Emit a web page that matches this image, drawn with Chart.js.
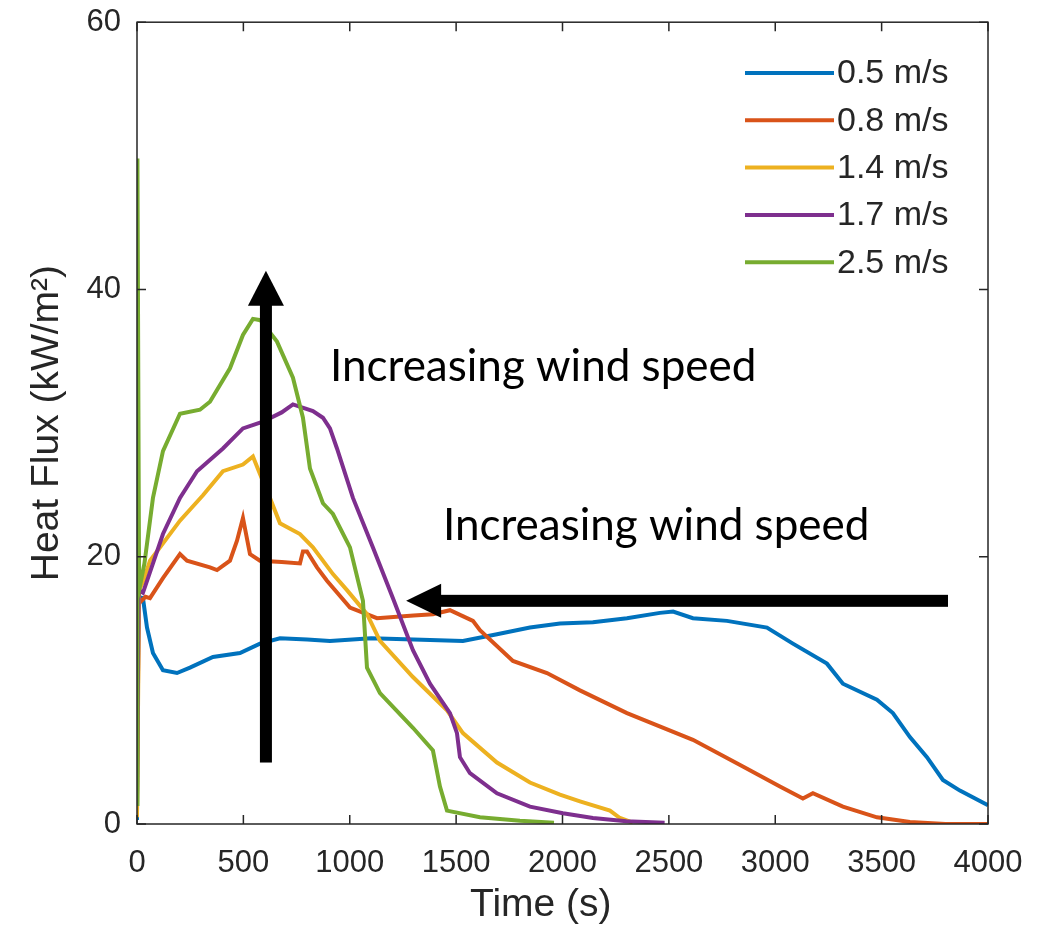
<!DOCTYPE html>
<html>
<head>
<meta charset="utf-8">
<script src="https://cdn.jsdelivr.net/npm/chart.js@4/dist/chart.umd.min.js"></script>
<style>
  html, body { margin: 0; padding: 0; background: #fff; }
  canvas { display: block; }
</style>
</head>
<body>
<canvas id="fluxChart" width="1051" height="933" style="width:1051px;height:933px"></canvas>
<script>
// ========== DATA ==========
const seriesLabels = ['0.5 m/s', '0.8 m/s', '1.4 m/s', '1.7 m/s', '2.5 m/s'];
const seriesColors = ['#0072BD', '#D95319', '#EDB120', '#7E2F8E', '#77AC30'];

const xTicks = [0, 500, 1000, 1500, 2000, 2500, 3000, 3500, 4000];
const yTicks = [0, 20, 40, 60];

// [time (s), heat flux (kW/m2)]
const flux05 = [
  [0, 0.3], [5, 17], [28, 16.9], [47, 14.7], [75, 12.8], [122, 11.5], [188, 11.3], [249, 11.7],
  [357, 12.5], [484, 12.8], [578, 13.5], [672, 13.9], [800, 13.8], [907, 13.7], [1100, 13.9],
  [1300, 13.8], [1532, 13.7], [1692, 14.2], [1847, 14.7], [1988, 15.0], [2143, 15.1], [2303, 15.4],
  [2458, 15.8], [2520, 15.9], [2613, 15.4], [2773, 15.2], [2961, 14.7], [3083, 13.5], [3243, 12.0],
  [3318, 10.5], [3478, 9.3], [3553, 8.3], [3633, 6.5], [3713, 5.0], [3788, 3.3], [3868, 2.5], [4000, 1.4]
];
const flux08 = [
  [0, 1.3], [8, 16.5], [40, 17.0], [61, 16.9], [122, 18.4], [202, 20.2], [235, 19.7], [343, 19.2],
  [376, 19.0], [437, 19.7], [470, 21.2], [498, 22.9], [531, 20.2], [578, 19.7], [680, 19.6], [766, 19.5],
  [780, 20.4], [799, 20.4], [846, 19.2], [893, 18.2], [1001, 16.2], [1128, 15.4], [1300, 15.6],
  [1391, 15.7], [1471, 16.0], [1579, 15.2], [1612, 14.5], [1767, 12.2], [1927, 11.3], [2082, 10.0],
  [2303, 8.3], [2613, 6.3], [2848, 4.3], [3022, 2.8], [3130, 1.9], [3177, 2.3], [3318, 1.3],
  [3478, 0.5], [3633, 0.15], [3800, 0], [4000, 0]
];
const flux14 = [
  [0, 0.5], [10, 17.5], [30, 18.2], [61, 19.7], [202, 22.7], [310, 24.6], [404, 26.4], [498, 26.9],
  [545, 27.5], [578, 26.2], [625, 24.4], [672, 22.5], [766, 21.7], [827, 20.7], [921, 18.7],
  [987, 17.5], [1081, 15.7], [1142, 13.7], [1297, 11.0], [1457, 8.5], [1532, 6.8], [1692, 4.6],
  [1847, 3.1], [1988, 2.2], [2082, 1.7], [2223, 1.0], [2270, 0.45], [2330, 0.1]
];
const flux17 = [
  [0, 2.0], [8, 17.5], [28, 17.3], [122, 21.7], [202, 24.4], [282, 26.4], [404, 28.1], [498, 29.6],
  [592, 30.1], [680, 30.8], [733, 31.4], [827, 30.9], [874, 30.4], [907, 29.6], [940, 28.1],
  [1015, 24.4], [1109, 20.7], [1203, 16.9], [1297, 13.0], [1377, 10.5], [1471, 8.3], [1504, 6.8],
  [1518, 5.0], [1565, 3.8], [1692, 2.3], [1847, 1.3], [2002, 0.8], [2143, 0.45], [2300, 0.2], [2480, 0.1]
];
const flux25 = [
  [0, 1.5], [2, 49.8], [10, 17.5], [35, 19.5], [75, 24.4], [122, 27.9], [202, 30.7], [296, 31.0],
  [343, 31.6], [437, 34.1], [498, 36.6], [545, 37.8], [580, 37.7], [658, 36.1], [733, 33.4],
  [780, 30.4], [813, 26.6], [874, 24.0], [921, 23.2], [1001, 20.7], [1062, 16.7], [1081, 11.7],
  [1142, 9.8], [1297, 7.2], [1391, 5.5], [1424, 2.8], [1457, 1.0], [1612, 0.5], [1800, 0.25], [1960, 0.1]
];
const allSeries = [flux05, flux08, flux14, flux17, flux25];

// annotations in data coordinates
const annoText = 'Increasing wind speed';
const vArrow = { x: 606, yFrom: 4.6, yTo: 41.4 };
const hArrow = { y: 16.7, xFrom: 3812, xTo: 1265 };
const textPos = [[907, 34.2], [1438, 22.3]];

const axisColor = '#262626';
const fontFamily = "'Liberation Sans', Arial, Helvetica, sans-serif";
const xTickFont = { family: fontFamily, size: 31, lineHeight: 1 };
// small line height so the top label does not push the plot box down
const yTickFont = { family: fontFamily, size: 31, lineHeight: 0.4 };

// ========== PLUGIN: box, inner ticks, arrows, legend ==========
const decorPlugin = {
  id: 'decor',
  afterDatasetsDraw(chart) {
    const ctx = chart.ctx;
    const a = chart.chartArea;
    const xs = chart.scales.x, ys = chart.scales.y;
    ctx.save();

    // box
    ctx.strokeStyle = axisColor;
    ctx.lineWidth = 1.5;
    ctx.strokeRect(a.left, a.top, a.right - a.left, a.bottom - a.top);

    // inward ticks
    const tl = 9;
    ctx.beginPath();
    xTicks.forEach(v => {
      const px = xs.getPixelForValue(v);
      ctx.moveTo(px, a.bottom); ctx.lineTo(px, a.bottom - tl);
      ctx.moveTo(px, a.top); ctx.lineTo(px, a.top + tl);
    });
    yTicks.forEach(v => {
      const py = ys.getPixelForValue(v);
      ctx.moveTo(a.left, py); ctx.lineTo(a.left + tl, py);
      ctx.moveTo(a.right, py); ctx.lineTo(a.right - tl, py);
    });
    ctx.stroke();

    // vertical arrow
    ctx.fillStyle = '#000';
    const vx = xs.getPixelForValue(vArrow.x);
    const vb = ys.getPixelForValue(vArrow.yFrom);
    const vt = ys.getPixelForValue(vArrow.yTo);
    ctx.fillRect(vx - 6, vt + 32, 12, vb - vt - 32);
    ctx.beginPath();
    ctx.moveTo(vx, vt);
    ctx.lineTo(vx - 18, vt + 35);
    ctx.lineTo(vx + 18, vt + 35);
    ctx.closePath();
    ctx.fill();

    // horizontal arrow
    const hy = ys.getPixelForValue(hArrow.y);
    const hr = xs.getPixelForValue(hArrow.xFrom);
    const hl = xs.getPixelForValue(hArrow.xTo);
    ctx.fillRect(hl + 32, hy - 6, hr - hl - 32, 12);
    ctx.beginPath();
    ctx.moveTo(hl, hy);
    ctx.lineTo(hl + 35, hy - 17);
    ctx.lineTo(hl + 35, hy + 17);
    ctx.closePath();
    ctx.fill();

    // annotation text
    ctx.font = "44px Lato, 'Open Sans', sans-serif";
    ctx.textBaseline = 'middle';
    ctx.textAlign = 'left';
    textPos.forEach(p => {
      ctx.fillText(annoText, xs.getPixelForValue(p[0]), ys.getPixelForValue(p[1]));
    });

    // legend
    ctx.font = "34px " + fontFamily;
    ctx.lineWidth = 4;
    seriesLabels.forEach((lab, i) => {
      const y = 73 + i * 47.3;
      ctx.strokeStyle = seriesColors[i];
      ctx.beginPath();
      ctx.moveTo(745, y); ctx.lineTo(834, y);
      ctx.stroke();
      ctx.fillStyle = axisColor;
      ctx.fillText(lab, 837, y + 1);
    });

    ctx.restore();
  }
};

// ========== DRAW CHART ==========
const datasets = allSeries.map((s, i) => ({
  label: seriesLabels[i],
  data: s.map(p => ({ x: p[0], y: p[1] })),
  borderColor: seriesColors[i],
  backgroundColor: seriesColors[i],
  borderWidth: 4,
  pointRadius: 0,
  tension: 0,
  fill: false,
  order: allSeries.length - i
}));

new Chart(document.getElementById('fluxChart'), {
  type: 'line',
  data: { datasets: datasets },
  plugins: [decorPlugin],
  options: {
    responsive: false,
    animation: false,
    layout: { padding: { top: 20, right: 63, left: 0, bottom: 0 } },
    plugins: {
      legend: { display: false },
      tooltip: { enabled: false }
    },
    scales: {
      x: {
        type: 'linear',
        min: 0,
        max: 4000,
        afterFit: s => { s.height = 109; },
        afterBuildTicks: s => { s.ticks = xTicks.map(v => ({ value: v })); },
        grid: { display: false, drawTicks: false },
        border: { display: false },
        ticks: {
          color: axisColor, font: xTickFont, padding: 24, maxRotation: 0,
          callback: v => String(v)
        },
        title: {
          display: true,
          text: 'Time (s)    ',
          color: axisColor,
          font: { family: fontFamily, size: 39 },
          padding: { top: 0, bottom: 4 }
        }
      },
      y: {
        min: 0,
        max: 60,
        afterFit: s => { s.width = 137; },
        afterBuildTicks: s => { s.ticks = yTicks.map(v => ({ value: v })); },
        grid: { display: false, drawTicks: false },
        border: { display: false },
        ticks: { color: axisColor, font: yTickFont, padding: 16, callback: v => String(v) },
        title: {
          display: true,
          text: 'Heat Flux (kW/m²)',
          color: axisColor,
          font: { family: fontFamily, size: 39 },
          padding: { top: 24, bottom: 0 }
        }
      }
    }
  }
});
</script>
</body>
</html>
